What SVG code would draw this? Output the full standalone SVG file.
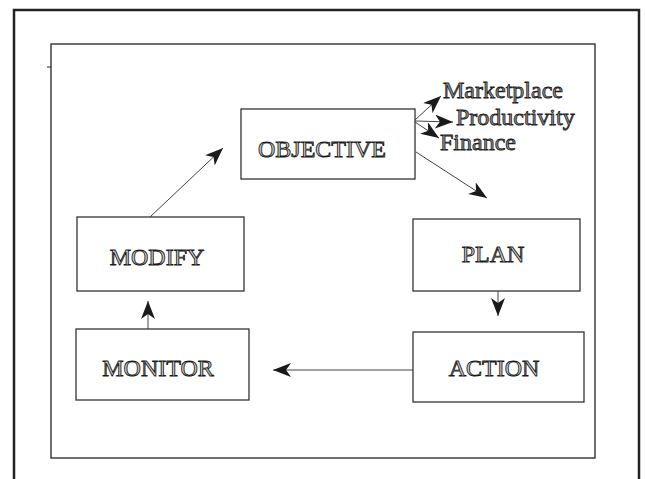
<svg xmlns="http://www.w3.org/2000/svg" width="645" height="479" viewBox="0 0 645 479">
<style>
.frame{fill:none;stroke:#222;}
.box{fill:#fff;stroke:#333;stroke-width:1.3;}
.lbl{font-family:"Liberation Serif",serif;font-size:24px;fill:#d0d0d0;stroke:#1a1a1a;stroke-width:0.9;text-anchor:middle;}
.side{font-family:"Liberation Serif",serif;font-size:24px;fill:#909090;stroke:#1a1a1a;stroke-width:0.8;}
.conn{fill:none;stroke:#444;stroke-width:1;}
</style>
<defs>
<marker id="ah" markerUnits="userSpaceOnUse" markerWidth="20" markerHeight="16" refX="18" refY="7" orient="auto">
<path d="M0,0 L18,7 L0,14 L5,7 Z" fill="#1a1a1a"/>
</marker>
</defs>
<rect width="645" height="479" fill="#fff"/>
<path class="frame" stroke-width="2.5" d="M14,479 L14,10 L639,10 L639,479"/>
<rect class="frame" stroke-width="1.3" x="51" y="44" width="544" height="414"/>
<line class="frame" stroke-width="1" x1="47" y1="67" x2="51" y2="67"/>
<g id="objective"><rect class="box" x="241" y="109" width="174" height="70"/><text class="lbl" x="322" y="157">OBJECTIVE</text></g>
<g id="plan"><rect class="box" x="413" y="219" width="167" height="72"/><text class="lbl" x="493" y="262">PLAN</text></g>
<g id="action"><rect class="box" x="413" y="332" width="171" height="70"/><text class="lbl" x="494" y="376">ACTION</text></g>
<g id="monitor"><rect class="box" x="76" y="329" width="173" height="71"/><text class="lbl" x="158" y="376">MONITOR</text></g>
<g id="modify"><rect class="box" x="77" y="217" width="167" height="74"/><text class="lbl" x="157" y="265">MODIFY</text></g>
<g id="marketplace"><text class="side" x="443" y="98">Marketplace</text></g>
<g id="productivity"><text class="side" x="456" y="125">Productivity</text></g>
<g id="finance"><text class="side" x="440" y="150">Finance</text></g>
<g id="connectors">
<line class="conn" x1="415" y1="120" x2="441" y2="96" marker-end="url(#ah)"/>
<line class="conn" x1="415" y1="121" x2="453" y2="122" marker-end="url(#ah)"/>
<line class="conn" x1="415" y1="122" x2="439" y2="138" marker-end="url(#ah)"/>
<line class="conn" x1="416" y1="152" x2="487" y2="198" marker-end="url(#ah)"/>
<line class="conn" x1="498" y1="291" x2="498" y2="316" marker-end="url(#ah)"/>
<line class="conn" x1="413" y1="370" x2="273" y2="370" marker-end="url(#ah)"/>
<line class="conn" x1="148" y1="329" x2="148" y2="301" marker-end="url(#ah)"/>
<line class="conn" x1="150" y1="217" x2="223" y2="148" marker-end="url(#ah)"/>
</g>
</svg>
